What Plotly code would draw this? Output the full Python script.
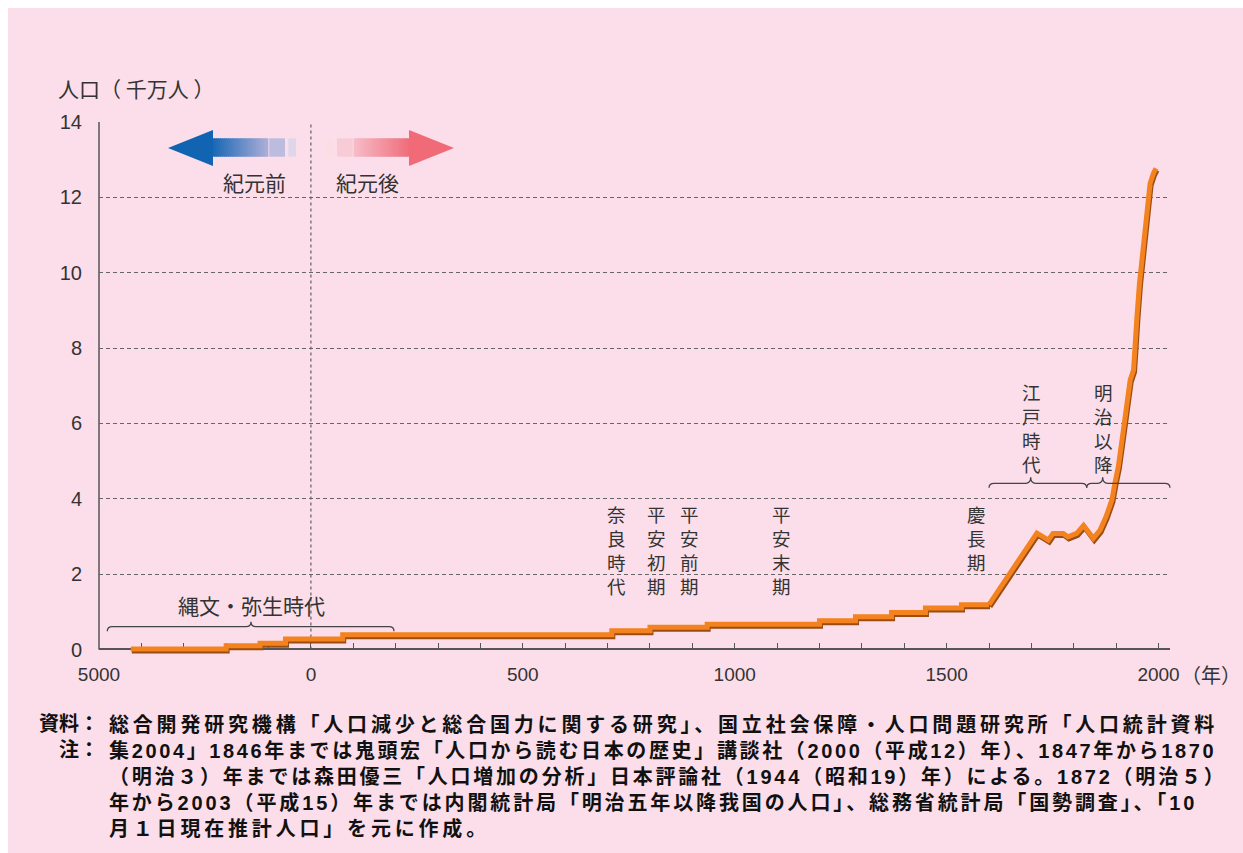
import plotly.graph_objects as go

# ---------------- data ----------------
# years: negative = BC ; population in units of 10 million persons
ancient_years = [-4250, -2000, -1200, -600, 75, 710, 800, 935, 1200, 1285, 1370, 1450, 1535, 1600]
ancient_pop = [0.01, 0.10, 0.165, 0.28, 0.39, 0.50, 0.59, 0.67, 0.76, 0.87, 0.98, 1.10, 1.19, 1.19]

modern_years = [1600, 1713, 1740, 1751, 1775, 1786, 1807, 1823, 1846, 1862, 1876, 1890,
                1897, 1905, 1916, 1927, 1933, 1941, 1943, 1949, 1955, 1963, 1970, 1975,
                1980, 1988, 1994]
modern_pop = [1.19, 3.09, 2.90, 3.08, 3.08, 2.99, 3.08, 3.29, 2.95, 3.17, 3.52, 3.97,
              4.41, 4.85, 5.74, 6.62, 7.15, 7.42, 7.95, 8.83, 9.72, 10.60, 11.49, 12.02,
              12.37, 12.64, 12.77]

x_tick_years = [-5000, -4000, -3000, -2000, -1000] + list(range(0, 2001, 100))
x_tick_label_map = {-5000: "5000", 0: "0", 500: "500", 1000: "1000", 1500: "1500", 2000: "2000"}
y_tick_vals = [0, 2, 4, 6, 8, 10, 12, 14]
y_tick_text = ["0", "2", "4", "6", "8", "10", "12", "14"]

y_title = "人口（ 千万人 ）"
x_unit = "（年）"
bc_label = "紀元前"
ad_label = "紀元後"
jomon_label = "縄文・弥生時代"
vertical_labels = ["奈良時代", "平安初期", "平安前期", "平安末期", "慶長期", "江戸時代", "明治以降"]

note_heads = ["資料：", "注："]
note_lines = [
    "総合開発研究機構「人口減少と総合国力に関する研究」、国立社会保障・人口問題研究所「人口統計資料",
    "集2004」1846年までは鬼頭宏「人口から読む日本の歴史」講談社（2000（平成12）年）、1847年から1870",
    "（明治３）年までは森田優三「人口増加の分析」日本評論社（1944（昭和19）年）による。1872（明治５）",
    "年から2003（平成15）年までは内閣統計局「明治五年以降我国の人口」、総務省統計局「国勢調査」、「10",
    "月１日現在推計人口」を元に作成。",
]


def to_axis(year):
    """Chart's x scale: BC years are compressed by a factor of 10."""
    return year / 10.0 if year < 0 else float(year)


# ---------------- geometry / styles ----------------
FIG_W, FIG_H = 1243, 853
ML, MR, MT, MB = 99, 73, 122, 198
PW = FIG_W - ML - MR
PH = FIG_H - MT - MB
Y_LO, Y_HI = -0.146, 14
X_LO, X_HI = -500, 2027
SH_DX = 1.0 * (X_HI - X_LO) / PW
SH_DY = 2.0 * (Y_HI - Y_LO) / PH

ORANGE = "#F3821F"
SHADOW = "#9A4C12"
LW = 5
BG = "#FBDEE9"
TXT = "#333333"
JP = "Noto Sans CJK JP"
NOTE_FONT = "Liberation Sans, Noto Sans CJK JP, sans-serif"
NUM = "Liberation Sans, Arial, sans-serif"


def pp(px, py):
    return ((px - ML) / PW, (MT + PH - py) / PH)


shapes = []
annotations = []

# pink background panel
a = pp(8, FIG_H)
b = pp(FIG_W, 8)
shapes.append(dict(type="rect", xref="paper", yref="paper", x0=a[0], y0=a[1], x1=b[0], y1=b[1],
                   fillcolor=BG, line=dict(width=0), layer="below"))

# y axis line (from 0 to 14)
y0p = (0 - Y_LO) / (Y_HI - Y_LO)
shapes.append(dict(type="line", xref="paper", yref="paper", x0=0, x1=0, y0=y0p, y1=1,
                   line=dict(color="#555555", width=1.5), layer="below"))
# dotted line at year 0
shapes.append(dict(type="line", xref="x", yref="y", x0=to_axis(0), x1=to_axis(0), y0=0, y1=14,
                   line=dict(color="#444444", width=1, dash="3px,3px"), layer="below"))


def rect_px(x0, y0, x1, y1, color):
    p0 = pp(x0, y1)
    p1 = pp(x1, y0)
    shapes.append(dict(type="rect", xref="paper", yref="paper", x0=p0[0], y0=p0[1], x1=p1[0], y1=p1[1],
                       fillcolor=color, line=dict(width=0), layer="above"))


def tri_px(pts, color):
    path = "M " + " L ".join("%.5f,%.5f" % pp(x, y) for x, y in pts) + " Z"
    shapes.append(dict(type="path", xref="paper", yref="paper", path=path,
                       fillcolor=color, line=dict(width=0), layer="above"))


def rgb(c):
    return "rgb(%d,%d,%d)" % tuple(int(round(v)) for v in c)


def gradient(x_start, x_end, y0, y1, c_start, c_end, n=28):
    step = (x_end - x_start) / n
    for i in range(n):
        t = (i + 0.5) / n
        c = [c_start[k] + (c_end[k] - c_start[k]) * t for k in range(3)]
        xa = x_start + i * step
        rect_px(min(xa, xa + step) - 0.4, y0, max(xa, xa + step) + 0.4, y1, rgb(c))


# blue arrow (BC, pointing left)
gradient(212.5, 268, 138.3, 156.7, (22, 102, 180), (172, 174, 216))
rect_px(269.3, 138.3, 285, 156.7, "rgb(188,188,222)")
rect_px(288.3, 138.3, 296, 156.7, "rgb(222,214,235)")
tri_px([(168, 148), (213, 130), (213, 166)], "rgb(16,100,178)")
# red arrow (AD, pointing right)
gradient(409.5, 354, 138.3, 156.7, (240, 108, 122), (246, 188, 200))
rect_px(337, 138.3, 352.7, 156.7, "rgb(247,204,214)")
rect_px(326, 138.3, 333.7, 156.7, "rgb(249,222,230)")
tri_px([(454, 148), (409, 130), (409, 166)], "rgb(240,106,120)")


def brace(x0, x1, xm, y, drop, tip, r=5):
    pts = [
        ("M", [(x0, y + drop)]),
        ("Q", [(x0, y), (x0 + r, y)]),
        ("L", [(xm - r, y)]),
        ("Q", [(xm, y), (xm, y - tip)]),
        ("Q", [(xm, y), (xm + r, y)]),
        ("L", [(x1 - r, y)]),
        ("Q", [(x1, y), (x1, y + drop)]),
    ]
    path = " ".join(cmd + " " + " ".join("%.5f,%.5f" % pp(px, py) for px, py in ps) for cmd, ps in pts)
    shapes.append(dict(type="path", xref="paper", yref="paper", path=path,
                       line=dict(color="#444444", width=1.3), layer="above"))


brace(107.3, 394, 251, 626.7, 4.5, 5)
brace(989, 1086.7, 1030.7, 483.3, 4.5, 6)
brace(1086.7, 1170, 1102.7, 483.3, 4.5, 6)


def text_px(s, x, y, size, xanchor="center", color=TXT, family=JP, weight=None, align="center"):
    px_, py_ = pp(x, y)
    f = dict(family=family, size=size, color=color)
    if weight:
        f["weight"] = weight
    annotations.append(dict(text=s, x=px_, y=py_, xref="paper", yref="paper", showarrow=False,
                            xanchor=xanchor, yanchor="middle", align=align, font=f))


text_px(y_title, 56, 88, 21, xanchor="left")
text_px(x_unit, 1179, 674, 20, xanchor="left")
text_px(bc_label, 288, 182, 21, xanchor="right")
text_px(ad_label, 334, 182, 21, xanchor="left")
text_px(jomon_label, 251, 605, 21)

# vertical labels: one text block each (character per line)
V_SIZE = 18.5
V_PITCH = 1.3 * V_SIZE
v_pos = [(616.7, 513.5), (656.3, 513.5), (689, 513.5), (781.7, 513.5),
         (976.7, 513.5), (1031.7, 391.7), (1103.3, 391.7)]
for lab, (cx, cy_first) in zip(vertical_labels, v_pos):
    cy = cy_first + (len(lab) - 1) * V_PITCH / 2.0
    text_px("<br>".join(lab), cx, cy, V_SIZE)

# notes: justified lines via letter-spacing, one text block
N_SIZE = 20
N_PITCH = 1.3 * N_SIZE
NOTE_X0, NOTE_X1 = 107, 1226
NOTE_Y_FIRST = 724


def natural_width(s, size):
    w = 0.0
    for ch in s:
        w += 0.56 * size if ch.isascii() else 1.0 * size
    return w


spacings = []
for i, line in enumerate(note_lines):
    if i < len(note_lines) - 1:
        ls = (NOTE_X1 - NOTE_X0 - natural_width(line, N_SIZE)) / len(line)
    else:
        ls = spacings[0]
    spacings.append(ls)
body = "<br>".join('<span style="letter-spacing:%.2fpx">%s</span>' % (ls, line)
                   for ls, line in zip(spacings, note_lines))
y_mid = NOTE_Y_FIRST + (len(note_lines) - 1) * N_PITCH / 2.0
text_px(body, NOTE_X0, y_mid, N_SIZE, xanchor="left", color="#111111", family=NOTE_FONT,
        weight=700, align="left")
heads = "<br>".join(note_heads)
y_mid_h = NOTE_Y_FIRST + (len(note_heads) - 1) * N_PITCH / 2.0
text_px(heads, 101, y_mid_h, N_SIZE, xanchor="right", color="#111111", family=NOTE_FONT,
        weight=700, align="right")

# ---------------- figure ----------------
fig = go.Figure()
fig.add_trace(go.Scatter(x=[], y=[], xaxis="x", yaxis="y", showlegend=False, hoverinfo="skip"))
for (xa, ya), col in ((("x2", "y2"), SHADOW), (("x3", "y3"), ORANGE)):
    fig.add_trace(go.Scatter(x=[to_axis(v) for v in ancient_years], y=ancient_pop, mode="lines",
                             line=dict(color=col, width=LW, shape="hv"), xaxis=xa, yaxis=ya,
                             showlegend=False, hoverinfo="skip"))
    fig.add_trace(go.Scatter(x=[to_axis(v) for v in modern_years], y=modern_pop, mode="lines",
                             line=dict(color=col, width=LW, shape="linear"), xaxis=xa, yaxis=ya,
                             showlegend=False, hoverinfo="skip"))

fig.update_layout(
    width=FIG_W, height=FIG_H,
    margin=dict(l=ML, r=MR, t=MT, b=MB, pad=0),
    paper_bgcolor="white", plot_bgcolor="rgba(0,0,0,0)",
    showlegend=False,
    xaxis=dict(range=[X_LO, X_HI], domain=[0, 1], anchor="free", position=y0p, side="bottom",
               showline=True, linecolor="#555555", linewidth=1.5, layer="below traces",
               ticks="inside", ticklen=6, tickwidth=1, tickcolor="#555555",
               tickmode="array", tickvals=[to_axis(v) for v in x_tick_years],
               ticktext=[x_tick_label_map.get(v, "") for v in x_tick_years],
               tickfont=dict(family=NUM, size=19, color=TXT), ticklabelstandoff=8,
               showgrid=False, zeroline=False, fixedrange=True),
    yaxis=dict(range=[Y_LO, Y_HI], domain=[0, 1], anchor="x",
               tickmode="array", tickvals=y_tick_vals, ticktext=y_tick_text,
               tickfont=dict(family=NUM, size=20, color=TXT), ticks="", ticklabelstandoff=16,
               showgrid=True, gridcolor="#666666", gridwidth=1, griddash="4px,3px",
               showline=False, zeroline=False, layer="below traces", fixedrange=True),
    xaxis2=dict(overlaying="x", range=[X_LO - SH_DX, X_HI - SH_DX], visible=False, fixedrange=True),
    yaxis2=dict(overlaying="y", range=[Y_LO + SH_DY, Y_HI + SH_DY], visible=False, fixedrange=True),
    xaxis3=dict(overlaying="x", range=[X_LO, X_HI], visible=False, fixedrange=True),
    yaxis3=dict(overlaying="y", range=[Y_LO, Y_HI], visible=False, fixedrange=True),
    shapes=shapes,
    annotations=annotations,
)

fig.write_html("out.html")
